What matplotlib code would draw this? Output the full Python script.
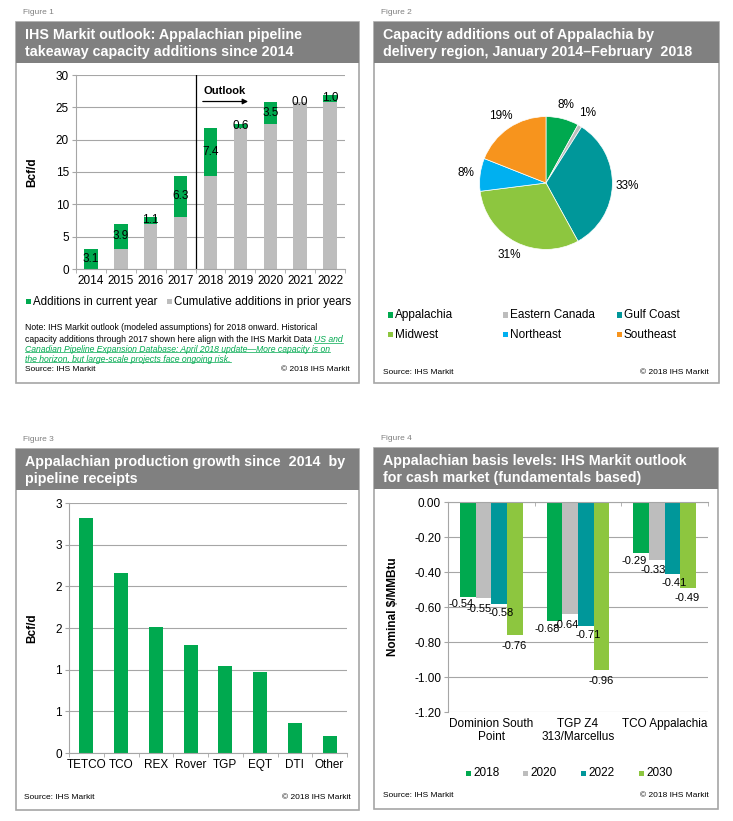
import numpy as np
import matplotlib.pyplot as plt
from matplotlib.patches import Rectangle
from matplotlib.lines import Line2D

plt.rcParams['font.family'] = ['Liberation Sans', 'DejaVu Sans']

W, H = 733, 821

# Figure 1 data
years = ['2014', '2015', '2016', '2017', '2018', '2019', '2020', '2021', '2022']
additions = [3.1, 3.9, 1.1, 6.3, 7.4, 0.6, 3.5, 0.0, 1.0]
prior = [0.0, 3.1, 7.0, 8.1, 14.4, 21.8, 22.4, 25.9, 25.9]

# Figure 2 data
regions = ['Appalachia', 'Eastern Canada', 'Gulf Coast', 'Midwest', 'Northeast', 'Southeast']
shares = [8, 1, 33, 31, 8, 19]

# Figure 3 data
pipelines = ['TETCO', 'TCO', 'REX', 'Rover', 'TGP', 'EQT', 'DTI', 'Other']
growth = [2.82, 2.16, 1.51, 1.30, 1.05, 0.97, 0.36, 0.21]
growth_ticks = [0, 0.5, 1.0, 1.5, 2.0, 2.5, 3.0]
growth_tick_labels = ['0', '1', '1', '2', '2', '3', '3']

# Figure 4 data
hubs = ['Dominion South\nPoint', 'TGP Z4\n313/Marcellus', 'TCO Appalachia']
basis_years = ['2018', '2020', '2022', '2030']
basis_2018 = [-0.54, -0.68, -0.29]
basis_2020 = [-0.55, -0.64, -0.33]
basis_2022 = [-0.58, -0.71, -0.41]
basis_2030 = [-0.76, -0.96, -0.49]
basis_ticks = [-1.2, -1.0, -0.8, -0.6, -0.4, -0.2, 0.0]

GREEN = '#00A94F'
GRAY = '#BDBDBD'
TEAL = '#00979A'
LIME = '#8DC63F'
BLUE = '#00B0F0'
ORANGE = '#F7941D'
BAND = '#808080'
GRID = '#A6A6A6'

fig = plt.figure(figsize=(W / 100, H / 100), dpi=100)


def rect(l, t, r, b):
    return [l / W, 1 - b / H, (r - l) / W, (b - t) / H]


def ftext(x, y, s, **kw):
    kw.setdefault('va', 'center')
    return fig.text(x / W, 1 - y / H, s, **kw)


def panel(l, t, r, b, band_h, label, title):
    fig.patches.append(Rectangle((l / W, 1 - b / H), (r - l) / W, (b - t) / H,
                                 transform=fig.transFigure, fill=False,
                                 ec='#A6A6A6', lw=1.2))
    fig.patches.append(Rectangle((l / W, 1 - (t + band_h) / H), (r - l) / W, band_h / H,
                                 transform=fig.transFigure, fc=BAND, ec='none'))
    ftext(l + 7, t - 10, label, fontsize=6, color='#808080')
    for i, line in enumerate(title):
        ftext(l + 9, t + 13 + 17 * i, line, fontsize=10.3, color='white',
              fontweight='bold')


def source(l, r, y):
    ftext(l, y, 'Source: IHS Markit', fontsize=6)
    ftext(r, y, '\u00a9 2018 IHS Markit', fontsize=6, ha='right')


def legend_item(x, y, color, label, size=8.3):
    fig.patches.append(Rectangle((x / W, 1 - (y + 2.5) / H), 5 / W, 5 / H,
                                 transform=fig.transFigure, fc=color, ec='none'))
    ftext(x + 7, y, label, fontsize=size)


def style_axes(ax):
    for s in ['top', 'right']:
        ax.spines[s].set_visible(False)
    for s in ['left', 'bottom']:
        ax.spines[s].set_color(GRID)
    ax.tick_params(axis='y', length=3, color=GRID, labelsize=8.5, pad=2)
    ax.tick_params(axis='x', which='major', length=0, labelsize=8.5, pad=4)
    ax.tick_params(axis='x', which='minor', length=3, color=GRID)
    ax.yaxis.grid(True, color=GRID, lw=0.8)
    ax.set_axisbelow(True)


# ---------------- Figure 1 ----------------
panel(16, 22, 359, 383, 41, 'Figure 1',
      ['IHS Markit outlook: Appalachian pipeline',
       'takeaway capacity additions since 2014'])
ax1 = fig.add_axes(rect(76, 75, 345, 269))
x1 = np.arange(len(years))
ax1.bar(x1, prior, width=0.45, color=GRAY)
ax1.bar(x1, additions, width=0.45, bottom=prior, color=GREEN)
for i in range(len(years)):
    ax1.text(x1[i], prior[i] + additions[i] / 2, f'{additions[i]:.1f}',
             ha='center', va='center', fontsize=8.5)
ax1.set_xlim(-0.5, len(years) - 0.5)
ax1.set_ylim(0, 30)
ax1.set_yticks(np.arange(0, 31, 5))
ax1.set_xticks(x1)
ax1.set_xticklabels(years)
ax1.set_xticks(np.arange(-0.5, len(years)), minor=True)
style_axes(ax1)
ax1.axvline(3.5, color='black', lw=0.9)
ax1.text(3.75, 27.6, 'Outlook', fontsize=8, fontweight='bold', va='center')
ax1.annotate('', xy=(5.35, 25.9), xytext=(3.65, 25.9),
             arrowprops=dict(arrowstyle='-|>', color='black', lw=0.9,
                             mutation_scale=8))
ax1.set_ylabel('Bcf/d', fontsize=8.5, fontweight='bold')
ax1.yaxis.set_label_coords(-0.14, 0.5)

legend_item(26, 302, GREEN, 'Additions in current year')
legend_item(167, 302, GRAY, 'Cumulative additions in prior years')

ftext(25, 328, 'Note: IHS Markit outlook (modeled assumptions) for 2018 onward. Historical',
      fontsize=6.2)
t_black = ftext(25, 339, 'capacity additions through 2017 shown here align with the IHS Markit Data ',
                fontsize=6.2)
fig.canvas.draw()
renderer = fig.canvas.get_renderer()
bb = t_black.get_window_extent(renderer)
link_style = dict(fontsize=6.2, color=GREEN, style='italic')
links = [
    fig.text(bb.x1 / W, 1 - 339 / H, 'US and', va='center', **link_style),
    ftext(25, 349, 'Canadian Pipeline Expansion Database: April 2018 update\u2014More capacity is on',
          **link_style),
    ftext(25, 359, 'the horizon, but large-scale projects face ongoing risk.', **link_style),
]
fig.canvas.draw()
for t in links:
    b = t.get_window_extent(renderer)
    fig.add_artist(Line2D([b.x0 / W, b.x1 / W], [(b.y0 + 1) / H, (b.y0 + 1) / H],
                          transform=fig.transFigure, color=GREEN, lw=0.5))
source(25, 350, 369)

# ---------------- Figure 2 ----------------
panel(374, 22, 719, 383, 41, 'Figure 2',
      ['Capacity additions out of Appalachia by',
       'delivery region, January 2014\u2013February  2018'])
ax2 = fig.add_axes(rect(463, 100, 629, 266))
ax2.pie(shares, colors=[GREEN, GRAY, TEAL, LIME, BLUE, ORANGE], startangle=90,
        counterclock=False, autopct='%.0f%%', pctdistance=1.22,
        wedgeprops=dict(edgecolor='white', linewidth=0.5),
        textprops=dict(fontsize=8.5))
ax2.set_aspect('equal')
leg_colors = [GREEN, GRAY, TEAL, LIME, BLUE, ORANGE]
col_x = [388, 503, 617]
row_y = [315, 335]
for k, reg in enumerate(regions):
    legend_item(col_x[k % 3], row_y[k // 3], leg_colors[k], reg, size=8.5)
source(383, 709, 372)

# ---------------- Figure 3 ----------------
panel(16, 449, 359, 810, 41, 'Figure 3',
      ['Appalachian production growth since  2014  by',
       'pipeline receipts'])
ax3 = fig.add_axes(rect(69, 503, 347, 753))
x3 = np.arange(len(pipelines))
ax3.bar(x3, growth, width=0.4, color=GREEN)
ax3.set_xlim(-0.5, len(pipelines) - 0.5)
ax3.set_ylim(0, 3)
ax3.set_yticks(growth_ticks)
ax3.set_yticklabels(growth_tick_labels)
ax3.set_xticks(x3)
ax3.set_xticklabels(pipelines)
ax3.set_xticks(np.arange(-0.5, len(pipelines)), minor=True)
style_axes(ax3)
ax3.set_ylabel('Bcf/d', fontsize=8.5, fontweight='bold')
ax3.yaxis.set_label_coords(-0.11, 0.5)
source(24, 351, 797)

# ---------------- Figure 4 ----------------
panel(374, 448, 718, 809, 41, 'Figure 4',
      ['Appalachian basis levels: IHS Markit outlook',
       'for cash market (fundamentals based)'])
ax4 = fig.add_axes(rect(448, 502, 708, 712))
x4 = np.arange(len(hubs))
bw = 0.18
series4 = [basis_2018, basis_2020, basis_2022, basis_2030]
colors4 = [GREEN, GRAY, TEAL, LIME]
label_dx = [-5, -3, 1.5, -0.5]
label_dy = [-2, -4, -3, -4]
for j, vals in enumerate(series4):
    pos = x4 + (j - 1.5) * bw
    ax4.bar(pos, vals, width=bw, color=colors4[j])
    for p, v in zip(pos, vals):
        ax4.annotate(f'{v:.2f}', (p, v), xytext=(label_dx[j], label_dy[j]),
                     textcoords='offset points', ha='center', va='top',
                     fontsize=8)
ax4.set_xlim(-0.5, len(hubs) - 0.5)
ax4.set_ylim(-1.2, 0)
ax4.set_yticks(basis_ticks)
ax4.set_yticklabels([f'{v:.2f}' for v in basis_ticks])
ax4.set_xticks(x4)
ax4.set_xticklabels(hubs)
style_axes(ax4)
ax4.spines['bottom'].set_visible(False)
ax4.spines['top'].set_visible(True)
ax4.spines['top'].set_color(GRID)
ax4.set_xticks(np.arange(-0.5, len(hubs)), minor=True)
ax4.tick_params(axis='x', which='minor', top=True, bottom=False, direction='in')
ax4.set_ylabel('Nominal \\$/MMBtu', fontsize=8.5, fontweight='bold')
ax4.yaxis.set_label_coords(-0.19, 0.5)
for j, yr in enumerate(basis_years):
    legend_item([466, 523, 581, 639][j], 773, colors4[j], yr, size=8.5)
source(383, 709, 795)

fig.savefig('out.png', dpi=100)
